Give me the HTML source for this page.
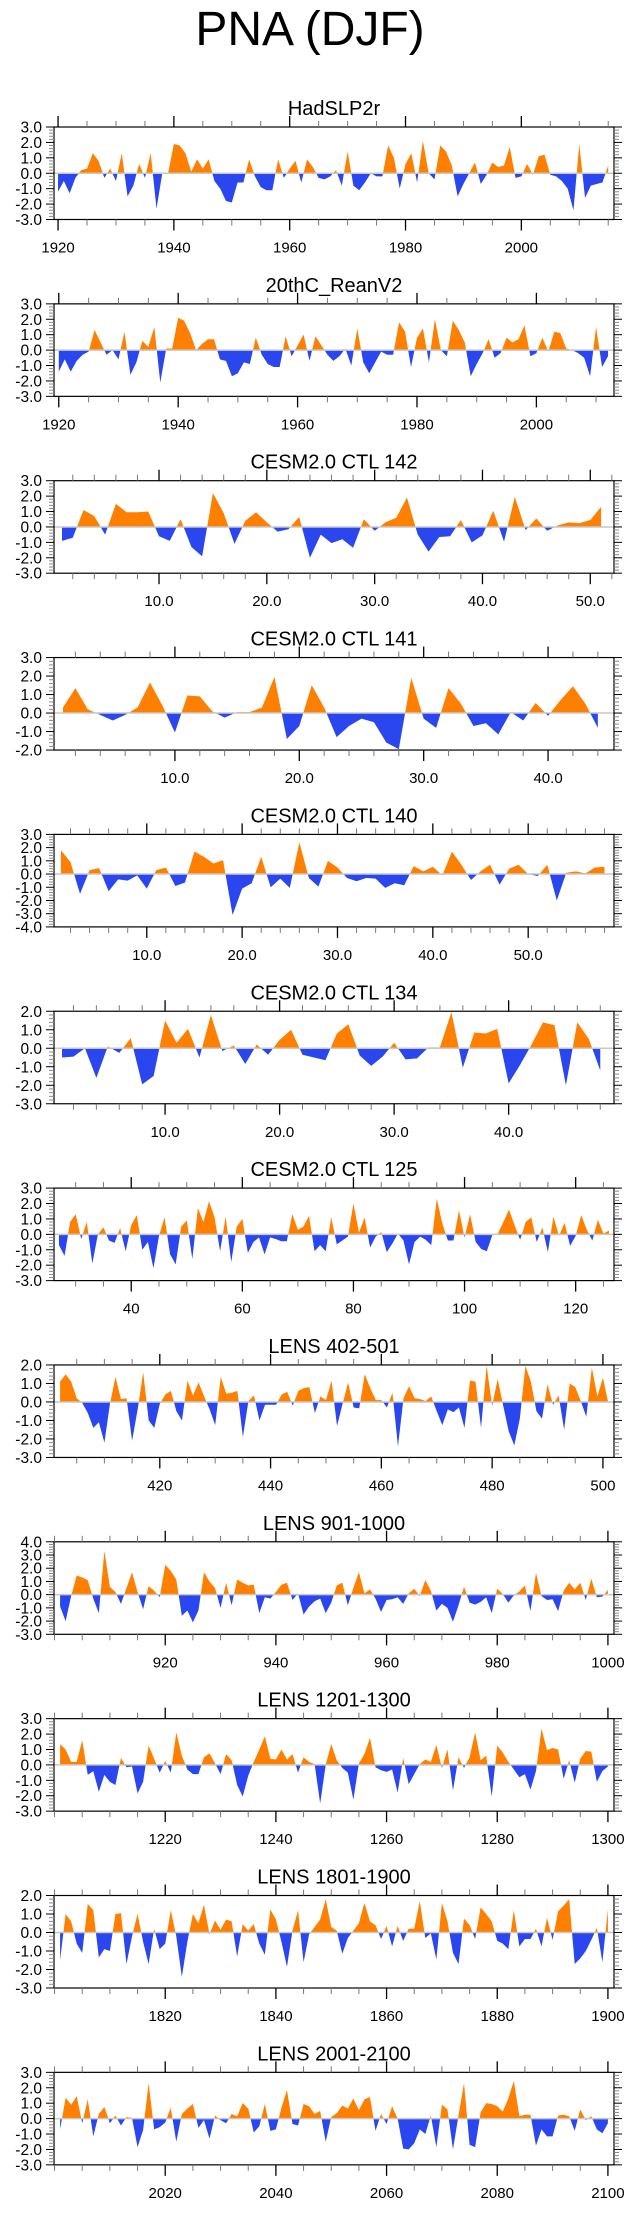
<!DOCTYPE html>
<html><head><meta charset="utf-8"><style>
html,body{margin:0;padding:0;background:#fff}
svg text{font-family:"Liberation Sans",sans-serif}
</style></head><body>
<svg id="fig" width="635" height="2208" viewBox="0 0 635 2208" xmlns="http://www.w3.org/2000/svg">
<text x="310" y="45" font-size="48" text-anchor="middle">PNA (DJF)</text>
</svg>
<script>
const panelTitles=["HadSLP2r","20thC_ReanV2","CESM2.0 CTL 142","CESM2.0 CTL 141","CESM2.0 CTL 140","CESM2.0 CTL 134","CESM2.0 CTL 125","LENS 402-501","LENS 901-1000","LENS 1201-1300","LENS 1801-1900","LENS 2001-2100"];
const seriesStart=[1920,1920,1,1,1,1,27,402,901,1201,1801,2001];
const xDomainMin=[1919.3,1919.2,0.26,0.28,0.27,0.3,26.1,400.9,899.9,1199.9,1799.9,1999.9];
const xDomainMax=[2016.0,2013.0,52.2,45.3,59.0,49.2,126.9,502,1001.1,1301.1,1901.1,2101.1];
const yMin=[-3,-3,-3,-2,-4,-3,-3,-3,-3,-3,-3,-3];
const yMax=[3,3,3,3,3,2,3,2,4,3,2,3];
const majorTicks=[[1920,1940,1960,1980,2000],[1920,1940,1960,1980,2000],[10,20,30,40,50],[10,20,30,40],[10,20,30,40,50],[10,20,30,40],[40,60,80,100,120],[420,440,460,480,500],[920,940,960,980,1000],[1220,1240,1260,1280,1300],[1820,1840,1860,1880,1900],[2020,2040,2060,2080,2100]];
const tickDecimals=[0,0,1,1,1,1,0,0,0,0,0,0];
const minorStep=[5,5,2,2,2,2,5,5,5,5,5,5];
const hadValues=[-1.2,-0.5,-1.3,-0.3,0.2,0.3,1.3,0.8,-0.3,0.3,-0.5,1.3,-1.5,-0.8,0.6,-0.3,1.3,-2.3,0,0,1.9,1.8,1.3,0.1,0.9,0.3,0.9,-0.5,-1.0,-1.8,-1.9,-0.6,-0.6,0.9,-0.2,-0.9,-1.1,-1.1,0.9,-0.3,0.3,0.8,-0.6,0.9,0.4,-0.3,-0.4,-0.2,0.2,-0.8,1.4,-0.8,-1.1,-0.6,0.0,-0.2,-0.2,1.8,1.0,-1.0,0.6,1.3,-0.6,2.1,0.0,-0.4,1.8,1.4,0.5,-1.5,-0.7,0.0,0.7,-0.7,-0.1,0.7,0.4,0.5,1.7,-0.3,-0.2,0.6,-0.1,1.1,1.2,-0.1,-0.2,-0.5,-1.0,-2.4,1.9,-1.6,-0.8,-0.7,-0.6,0.5];
const reanValues=[-1.4,-0.6,-1.4,-0.7,-0.3,-0.1,1.3,0.5,-0.3,0.0,-0.6,1.2,-1.6,-0.8,0.6,0.2,1.5,-2.1,0.1,0.1,2.1,1.9,1.1,0.0,0.4,0.7,0.7,-0.6,-0.7,-1.7,-1.5,-0.8,-0.9,0.8,-0.3,-0.9,-1.1,-1.1,0.9,-0.4,0.3,1.0,-0.7,0.9,0.3,-0.3,-0.7,-0.4,0.1,-1.0,1.4,-0.8,-1.5,-0.8,-0.1,-0.3,-0.3,1.8,1.2,-1.1,0.8,1.4,-0.8,2.0,0.0,-0.4,1.9,1.3,0.5,-1.7,-0.9,-0.2,0.7,-0.5,-0.2,0.8,0.5,0.7,1.6,-0.4,-0.2,0.8,-0.1,1.2,1.1,0.1,0.0,-0.2,-0.5,-1.7,1.5,-1.1,-0.4];
const ctl142Values=[-0.9,-0.7,1.1,0.7,-0.5,1.5,0.95,0.95,1.0,-0.6,-0.9,0.5,-1.3,-1.9,2.2,0.9,-1.1,0.4,0.95,0.3,-0.3,-0.15,0.65,-2.0,-0.5,-1.05,-0.8,-1.35,0.5,-0.25,0.3,0.6,1.9,-0.5,-1.6,-0.65,-0.6,0.45,-1.0,-0.55,1.05,-0.95,1.95,-0.2,0.55,-0.25,0.1,0.3,0.25,0.45,1.3];
const ctl141Values=[0.3,1.35,0.2,-0.1,-0.4,-0.1,0.3,1.65,0.4,-1.05,0.95,0.9,0.1,-0.25,0.05,0.05,0.3,1.95,-1.4,-0.7,1.5,0.3,-1.3,-0.7,-0.3,-0.5,-1.6,-1.95,1.9,-0.3,-0.8,1.35,0.5,-0.7,-0.55,-1.15,0.05,-0.4,0.55,-0.15,0.7,1.45,0.5,-0.8];
const ctl140Values=[1.8,0.9,-1.5,0.3,0.45,-1.3,-0.4,-0.5,-0.1,-1.1,0.3,0.5,-0.9,-0.65,1.7,1.3,0.8,1.05,-3.1,-1.1,-0.7,1.3,-1.0,-0.35,-1.05,2.4,-0.3,-0.95,1.0,0.5,-0.3,-0.55,-0.3,-0.35,-1.05,-0.7,-0.85,0.6,0.2,0.55,-0.1,1.7,0.7,-0.45,0.2,0.7,-0.8,0.4,0.7,0.0,-0.15,0.7,-2.0,0.1,0.2,0.05,0.5,0.55];
const ctl134Values=[-0.5,-0.45,0.0,-1.6,0.1,-0.25,0.55,-1.95,-1.5,1.5,0.3,1.05,-0.5,1.8,-0.15,0.15,-0.85,0.2,-0.35,0.45,1.0,-0.35,-0.5,-0.65,0.8,1.3,-0.4,-0.95,-0.45,0.3,-0.6,-0.55,0.05,0.05,1.95,-1.05,0.85,0.8,1.05,-1.9,-0.9,0.2,1.4,1.25,-2.0,1.4,0.5,-1.2];
const ctl125Values=[-0.7,-1.4,0.8,1.3,-0.3,0.8,-1.9,0.0,0.45,-0.4,-0.55,0.4,-1.1,0.6,1.25,-1.0,-0.5,-2.2,-0.1,1.1,-1.3,-1.95,0.5,0.9,-1.6,1.7,0.8,2.15,1.1,-1.1,1.15,-1.8,0.5,1.0,-1.2,-0.5,-0.2,-1.3,-0.2,-0.3,-0.45,-0.45,1.3,0.3,0.5,1.2,-1.1,-0.7,-1.1,1.1,-0.65,-0.4,-0.15,2.0,0.1,1.1,-0.85,-0.15,0.15,-1.15,-0.6,0.05,-0.4,-1.95,-0.5,-0.15,-0.35,-0.7,2.3,0.7,-0.4,-0.4,1.55,-0.2,1.3,-0.5,-0.95,-1.1,-0.05,0.05,0.8,1.6,0.6,-0.35,0.8,1.1,-0.5,0.45,-1.15,1.15,-0.1,0.75,-0.75,-0.1,1.25,0.3,-0.4,0.95,0.05,0.25];
const lens402Values=[1.1,1.5,1.1,0.2,-0.05,-0.6,-1.4,-1.1,-2.2,-0.1,1.35,0.15,0.2,-2.1,-0.4,1.6,-1.0,-1.4,-0.1,0.4,0.6,-0.5,-1.0,1.15,0.35,1.05,0.3,-0.4,-1.25,1.35,0.45,0.5,0.6,-1.9,0.05,0.35,-1.0,-0.15,-0.15,-0.15,0.4,0.55,-0.2,0.6,0.75,0.8,-0.6,0.3,0.1,1.15,-1.3,-0.1,1.05,-0.3,-0.35,1.5,0.75,0.1,0.1,-0.3,0.5,-2.4,0.2,0.85,0.2,0.15,0.05,0.3,-0.5,-1.25,-0.4,-0.55,-0.3,-1.4,1.15,1.1,-1.4,1.95,-0.2,1.25,-0.2,-1.6,-2.35,-0.9,1.95,1.1,-0.5,-0.9,0.95,-0.15,0.35,-1.5,1.0,0.8,0.05,-0.8,1.85,0.3,1.3,-0.1];
const lens901Values=[-0.9,-2.0,-0.1,1.45,1.3,1.1,-0.3,-1.4,3.3,0.6,0.2,-0.7,0.5,1.7,0.2,-1.1,0.65,0.3,-0.2,2.25,1.8,1.15,-1.6,-1.2,-2.1,-1.2,1.7,1.0,0.5,-1.0,0.9,-0.8,1.15,0.9,0.7,0.75,-1.4,-0.2,-0.3,0.2,0.75,0.9,-0.4,0.1,-1.5,-0.9,-0.5,-0.3,-1.4,-0.6,0.7,0.9,-0.8,0.5,1.7,0.1,0.4,-0.3,-1.3,-0.4,-0.35,-0.2,-0.7,0.1,0.45,-0.1,1.1,0.3,-1.2,-0.7,-1.0,-2.05,-0.8,0.6,-0.6,-0.75,-0.55,-0.2,-1.4,0.45,0.05,-0.6,-0.05,0.25,0.7,-1.25,1.65,-0.1,-0.4,-0.35,-1.25,0.3,0.9,0.4,0.9,-0.4,1.2,-0.2,-0.15,0.35];
const lens1201Values=[1.35,1.0,0.2,0.2,1.6,-0.65,-0.4,-1.75,-0.65,-1.1,-1.3,0.45,-0.15,-0.1,-1.85,-1.1,1.25,0.4,-0.5,0.25,-0.5,2.1,0.6,-0.3,-0.6,-0.6,0.5,0.75,0.1,-0.6,0.7,0.3,-1.3,-2.05,-0.7,0.2,1.0,1.85,0.4,0.35,1.0,0.35,0.7,-0.5,0.5,0.2,0.05,-2.5,0.0,1.35,0.3,-0.2,-0.5,-2.25,0.1,0.7,1.75,-0.15,-0.35,-0.45,-0.3,-1.8,0.45,-1.25,-0.6,0.05,0.35,0.2,1.3,-0.2,1.0,-1.65,0.5,-0.2,0.5,2.1,0.3,0.6,-2.05,1.25,0.8,0.2,-0.3,-0.8,-0.6,-1.6,-0.4,2.35,0.95,1.1,1.0,-0.9,0.3,-1.15,0.4,0.9,0.85,-1.1,-0.4,-0.1];
const lens1801Values=[-1.5,1.0,0.6,-0.6,-1.1,1.55,1.2,-1.35,-0.9,-1.0,1.0,1.05,-1.7,-0.2,1.0,-0.5,-1.7,0.2,-0.9,-0.6,1.2,-0.2,-2.4,-0.5,1.0,0.5,1.5,-0.1,0.65,0.15,0.7,0.6,-1.3,0.45,0.1,0.45,-0.6,-1.2,1.25,0.7,-0.5,-1.85,0.1,1.2,-1.6,-0.1,0.3,0.7,1.8,0.3,0.1,-1.15,-0.3,0.1,0.5,1.6,0.6,0.4,-0.35,0.35,-0.75,0.35,-0.45,0.2,0.2,1.7,-0.3,-0.05,-1.45,1.6,0.6,-1.1,-1.7,0.75,0.4,-0.35,1.35,1.0,0.6,-0.45,-0.6,-0.9,1.2,-0.75,-0.35,-0.35,0.2,-0.75,0.8,-0.4,1.15,1.45,1.8,-1.7,-1.4,-1.0,-0.4,0.25,-1.6,1.25];
const lens2001Values=[-0.7,1.35,0.9,1.45,-0.3,1.25,-1.15,0.3,0.75,-0.3,0.2,-0.45,0.1,0.05,-1.85,-0.75,2.3,-0.7,-0.55,-0.25,0.7,-1.5,0.3,0.65,0.95,-0.6,-0.1,-1.3,0.2,-0.1,-0.3,0.3,0.15,1.0,0.65,-0.9,-0.5,0.95,-0.8,-0.7,0.7,1.85,-0.35,-0.45,0.95,0.8,0.3,0.5,-1.5,0.1,0.35,0.85,0.65,1.3,0.55,1.25,1.4,-0.8,0.3,-0.35,0.8,0.0,-1.95,-2.0,-1.6,-0.7,-1.0,0.2,-1.85,0.9,0.6,-2.0,0.2,2.3,-1.7,-1.85,0.4,1.0,0.95,0.8,0.45,1.3,2.45,0.15,0.25,0.25,-1.75,-0.7,-1.15,-1.15,0.2,0.25,0.15,-0.8,0.6,-0.1,0.15,-0.7,-0.95,-0.3];

const allSeries=[hadValues,reanValues,ctl142Values,ctl141Values,ctl140Values,ctl134Values,ctl125Values,lens402Values,lens901Values,lens1201Values,lens1801Values,lens2001Values];
const NS="http://www.w3.org/2000/svg";
const svg=document.getElementById('fig');
const BOX_L=54,BOX_R=614,BOX_H=92.5,TOP0=127,GAP=176.85;
function mk(tag,attrs,parent){const e=document.createElementNS(NS,tag);for(const k in attrs)e.setAttribute(k,attrs[k]);(parent||svg).appendChild(e);return e;}

allSeries.forEach((vals,i)=>{
  const top=TOP0+i*GAP,bot=top+BOX_H;
  const g=mk('g',{});
  
  
  const xs=v=>BOX_L+(v-xDomainMin[i])/(xDomainMax[i]-xDomainMin[i])*(BOX_R-BOX_L);
  const ys=v=>bot-(v-yMin[i])/(yMax[i]-yMin[i])*BOX_H;
  const y0=ys(0);
  const t=mk('text',{x:334,y:top-12,'font-size':20,'text-anchor':'middle'},g);
  t.textContent=panelTitles[i];
  
  
  let d='M'+xs(seriesStart[i]).toFixed(2)+','+y0.toFixed(2);
  vals.forEach((v,k)=>{d+=' L'+xs(seriesStart[i]+k).toFixed(2)+','+ys(v).toFixed(2);});
  d+=' L'+xs(seriesStart[i]+vals.length-1).toFixed(2)+','+y0.toFixed(2)+' Z';
  const defs=mk('defs',{},g);
  const cpA=mk('clipPath',{id:'ca'+i},defs);mk('rect',{x:0,y:top,width:635,height:y0-top},cpA);
  const cpB=mk('clipPath',{id:'cb'+i},defs);mk('rect',{x:0,y:y0,width:635,height:bot-y0},cpB);
  const pos=mk('path',{d:d,fill:'#ff8000','clip-path':'url(#ca'+i+')'},g);
  
  
  const neg=mk('path',{d:d,fill:'#2a46ee','clip-path':'url(#cb'+i+')'},g);
  
  
  const zl=mk('line',{x1:BOX_L,x2:BOX_R,y1:y0,y2:y0,stroke:'#c8c8c8','stroke-width':1.5},g);
  
  
  const bx=mk('rect',{x:BOX_L,y:top,width:BOX_R-BOX_L,height:BOX_H,fill:'none',stroke:'#000','stroke-width':1.2},g);
  
  
  for(let v=yMin[i];v<=yMax[i]+1e-6;v+=0.2){
    const yy=ys(v);const major=Math.abs(v-Math.round(v))<1e-6;
    const L=major?8:5,col=major?'#000':'#888';
    mk('line',{x1:BOX_L-L,x2:BOX_L,y1:yy,y2:yy,stroke:col,'stroke-width':1},g);
    mk('line',{x1:BOX_R,x2:BOX_R+L,y1:yy,y2:yy,stroke:col,'stroke-width':1},g);
    if(major){
      const lb=mk('text',{x:42,y:yy+5.5,'font-size':15.5,'text-anchor':'end'},g);
      lb.textContent=Math.round(v).toFixed(1);
      
      
    }
  }
  const st=minorStep[i];
  for(let v=Math.ceil(xDomainMin[i]/st)*st;v<=xDomainMax[i];v+=st){
    const xx=xs(v);const major=majorTicks[i].includes(v);
    const L=major?11:6,col=major?'#000':'#777';
    mk('line',{x1:xx,x2:xx,y1:top-L,y2:top,stroke:col,'stroke-width':major?1.3:1},g);
    mk('line',{x1:xx,x2:xx,y1:bot,y2:bot+L,stroke:col,'stroke-width':major?1.3:1},g);
  }
  majorTicks[i].forEach(v=>{
    const lb=mk('text',{x:xs(v),y:bot+33,'font-size':15,'text-anchor':'middle'},g);
    lb.textContent=v.toFixed(tickDecimals[i]);
    
    
  });
});
</script>
</body></html>
